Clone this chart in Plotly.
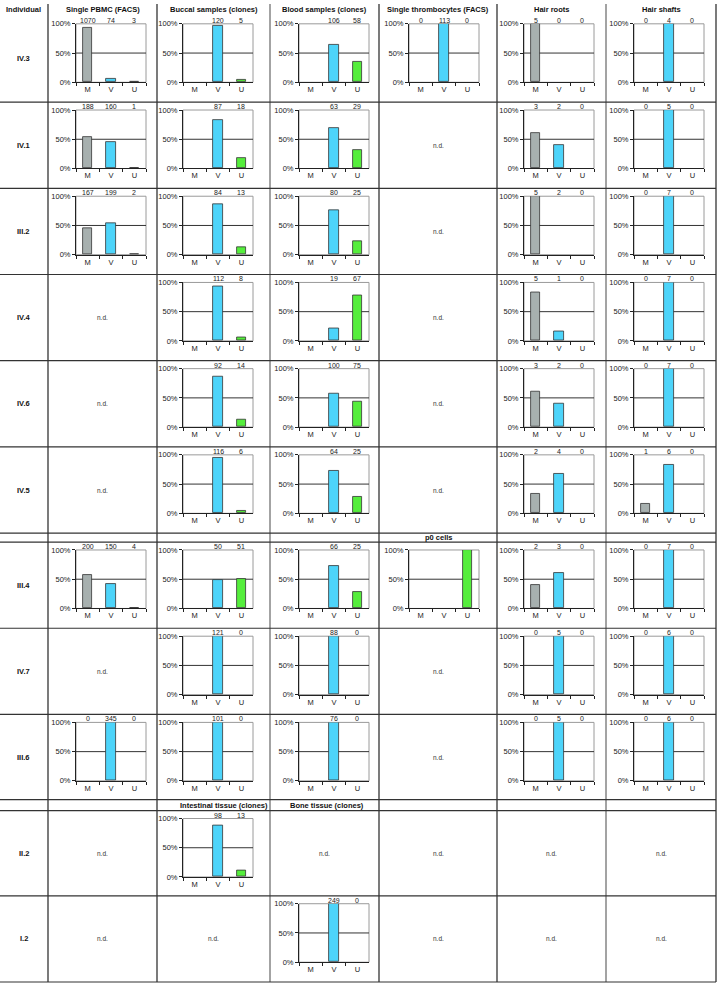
import plotly.graph_objects as go

W, H = 717, 988
FONT = "Liberation Sans, Arial, sans-serif"

cats = ["M", "V", "U"]
bar_colors = ["#A7B0AF", "#4DD4FA", "#55EE3C"]

col_titles = ["Single PBMC (FACS)", "Buccal samples (clones)", "Blood samples (clones)",
              "Single thrombocytes (FACS)", "Hair roots", "Hair shafts"]
individuals = ["IV.3", "IV.1", "III.2", "IV.4", "IV.6", "IV.5", "III.4", "IV.7", "III.6", "II.2", "I.2"]

# counts per column (None = no label shown)
pbmc = {"IV.3": [1070, 74, 3], "IV.1": [188, 160, 1], "III.2": [167, 199, 2],
        "III.4": [200, 150, 4], "III.6": [0, 345, 0]}
buccal = {"IV.3": [None, 120, 5], "IV.1": [None, 87, 18], "III.2": [None, 84, 13],
          "IV.4": [None, 112, 8], "IV.6": [None, 92, 14], "IV.5": [None, 116, 6],
          "III.4": [None, 50, 51], "IV.7": [None, 121, 0], "III.6": [None, 101, 0],
          "II.2": [None, 98, 13]}
blood = {"IV.3": [None, 106, 58], "IV.1": [None, 63, 29], "III.2": [None, 80, 25],
         "IV.4": [None, 19, 67], "IV.6": [None, 100, 75], "IV.5": [None, 64, 25],
         "III.4": [None, 66, 25], "IV.7": [None, 88, 0], "III.6": [None, 76, 0],
         "I.2": [None, 249, 0]}
thrombo = {"IV.3": [0, 113, 0], "III.4": [None, None, None]}
hair_roots = {"IV.3": [5, 0, 0], "IV.1": [3, 2, 0], "III.2": [5, 2, 0], "IV.4": [5, 1, 0],
              "IV.6": [3, 2, 0], "IV.5": [2, 4, 0], "III.4": [2, 3, 0], "IV.7": [0, 5, 0],
              "III.6": [0, 5, 0]}
hair_shafts = {"IV.3": [0, 4, 0], "IV.1": [0, 5, 0], "III.2": [0, 7, 0], "IV.4": [0, 7, 0],
               "IV.6": [0, 7, 0], "IV.5": [1, 6, 0], "III.4": [0, 7, 0], "IV.7": [0, 6, 0],
               "III.6": [0, 6, 0]}
# bar heights (%) where they are not simply count shares
pct_override = {("III.4", 3): [0, 0, 100], ("III.2", 4): [100, 0, 0], ("IV.5", 5): [17, 83, 0]}

columns_data = [pbmc, buccal, blood, thrombo, hair_roots, hair_shafts]

# ---- layout geometry (pixels) ----
col_bounds = [48, 157, 270, 379, 497, 606, 716]
plot_left = [76, 183, 299, 409, 524, 634]
plot_w = 70
row_tops = [12, 99, 186, 273, 360, 447, 543, 630, 717, 814, 900]
row_h = 87

def px(x):
    return x / W

def py(y):
    return 1 - y / H

def paper_text(text, x, y, size=7.5, color="#111"):
    return dict(x=px(x), y=py(y), xref="paper", yref="paper", text=text, showarrow=False,
                xanchor="center", yanchor="middle",
                font=dict(size=size, color=color, family=FONT))

fig = go.Figure()
layout = {}
shapes = []
annotations = []
k = 0

for r, ind in enumerate(individuals):
    top = row_tops[r]
    for c, data in enumerate(columns_data):
        if ind not in data:
            annotations.append(paper_text("n.d.", (col_bounds[c] + col_bounds[c + 1]) / 2,
                                          top + row_h / 2, size=6.5, color="#333"))
            continue
        k += 1
        xa = "x" if k == 1 else f"x{k}"
        ya = "y" if k == 1 else f"y{k}"
        counts = data[ind]
        if (ind, c) in pct_override:
            pcts = pct_override[(ind, c)]
        else:
            vals = [v or 0 for v in counts]
            tot = sum(vals)
            pcts = [100 * v / tot for v in vals]
        pcts = [p if p > 0 else None for p in pcts]
        fig.add_trace(go.Bar(x=cats, y=pcts, xaxis=xa, yaxis=ya, width=0.4,
                             marker=dict(color=bar_colors, line=dict(color="#333", width=0.8)),
                             showlegend=False, hoverinfo="skip"))
        x0 = plot_left[c]
        layout["xaxis" if k == 1 else f"xaxis{k}"] = dict(
            domain=[px(x0), px(x0 + plot_w)], anchor=ya, type="category",
            categoryorder="array", categoryarray=cats, range=[-0.5, 2.5],
            showline=True, linecolor="#222", linewidth=1, ticks="outside",
            tickson="boundaries", ticklen=3, tickcolor="#222",
            tickfont=dict(size=7.5, color="#222", family=FONT), showgrid=False,
            zeroline=False, fixedrange=True)
        layout["yaxis" if k == 1 else f"yaxis{k}"] = dict(
            domain=[py(top + 67), py(top + 8)], anchor=xa, range=[0, 100],
            tickvals=[0, 50, 100], ticktext=["0%", "50%", "100%"],
            showline=True, linecolor="#222", linewidth=1, ticks="outside",
            ticklen=3, tickcolor="#222", tickfont=dict(size=7.5, color="#222", family=FONT),
            showgrid=False, zeroline=False, fixedrange=True)
        shapes.append(dict(type="rect", xref=f"{xa} domain", yref=f"{ya} domain",
                           x0=0, x1=1, y0=0, y1=1, line=dict(color="#9A9A9A", width=1),
                           layer="below"))
        shapes.append(dict(type="line", xref=f"{xa} domain", yref=ya, x0=0, x1=1,
                           y0=50, y1=50, line=dict(color="#333", width=1), layer="below"))
        for cat, n in zip(cats, counts):
            if n is None:
                continue
            annotations.append(dict(x=cat, y=100, xref=xa, yref=ya, text=str(n),
                                    showarrow=False, xanchor="center", yanchor="bottom",
                                    yshift=-2, font=dict(size=7, color="#222", family=FONT)))

# header row
annotations.append(paper_text("<b>Individual</b>", 24, 6))
for c, t in enumerate(col_titles):
    annotations.append(paper_text(f"<b>{t}</b>", (col_bounds[c] + col_bounds[c + 1]) / 2, 6))
# row labels
for r, ind in enumerate(individuals):
    annotations.append(paper_text(f"<b>{ind}</b>", 24, row_tops[r] + row_h / 2))
# sub-headers
sub_titles = [("p0 cells", 439, 538.5), ("Intestinal tissue (clones)", 224, 808.5),
              ("Bone tissue (clones)", 327, 808.5)]
for t, x, y in sub_titles:
    annotations.append(paper_text(f"<b>{t}</b>", x, y))

# table grid lines
for xb in col_bounds:
    gray = xb in (270, 606)
    shapes.append(dict(type="line", xref="paper", yref="paper", x0=px(xb), x1=px(xb),
                       y0=py(0), y1=py(987),
                       line=dict(color="#8C8C8C" if gray else "#222", width=1.6 if gray else 1.2)))
h_lines = [99, 186, 273, 360, 447, 534, 543, 630, 717, 803, 814, 900, 987]
for yb in h_lines:
    shapes.append(dict(type="line", xref="paper", yref="paper", x0=0, x1=px(716),
                       y0=py(yb), y1=py(yb), line=dict(color="#333", width=1.2)))

fig.update_layout(width=W, height=H, margin=dict(l=0, r=0, t=0, b=0),
                  paper_bgcolor="white", plot_bgcolor="white", bargap=0,
                  shapes=shapes, annotations=annotations, **layout)
fig.write_html("out.html", config={"displayModeBar": False},
               post_script="document.body.style.margin='0';document.body.style.overflow='hidden';")
